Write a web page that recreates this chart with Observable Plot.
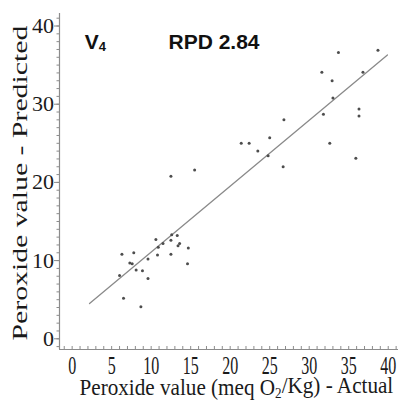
<!DOCTYPE html>
<html><head><meta charset="utf-8">
<script src="https://cdn.jsdelivr.net/npm/d3@7"></script>
<script src="https://cdn.jsdelivr.net/npm/@observablehq/plot@0.6"></script>
<style>body{margin:0;background:#fff} svg{display:block}</style>
</head><body><div id="chart"></div>
<script>
// Data
const actual    = [6.5, 8.7, 6.3, 7.8, 7.3, 7.6, 6.0, 8.1, 8.9, 9.6, 9.6, 10.6, 10.8, 10.9, 11.5, 12.6, 12.5, 13.3, 13.4, 13.6, 12.5, 14.7, 14.6, 12.5, 15.5, 21.4, 22.4, 23.5, 24.8, 25.0, 26.7, 26.8, 31.6, 32.9, 33.7, 38.7, 36.8, 33.0, 31.8, 36.3, 36.3, 32.6, 35.9];
const predicted = [5.2, 4.1, 10.8, 11.0, 9.7, 9.6, 8.1, 8.8, 8.7, 7.7, 10.2, 12.7, 10.7, 11.7, 12.2, 13.3, 12.6, 13.2, 11.9, 12.2, 10.8, 11.6, 9.6, 20.8, 21.6, 25.0, 25.0, 24.0, 23.4, 25.7, 22.0, 28.0, 34.1, 33.0, 36.6, 36.9, 34.1, 30.8, 28.7, 29.4, 28.5, 25.0, 23.1];
const fitActual    = [2.2, 39.9];
const fitPredicted = [4.5, 36.3];
const xTicks = [0, 5, 10, 15, 20, 25, 30, 35, 40];
const yTicks = [0, 10, 20, 30, 40];
const xDomain = [-1.6, 41.3];
const yDomain = [-1.37, 41.6];
const xLabel = "Peroxide value (meq O2/Kg) - Actual";
const yLabel = "Peroxide value - Predicted";
const panelLabel = "V4";
const rpdLabel = "RPD 2.84";

const points = actual.map((a, i) => ({actual: a, predicted: predicted[i]}));
const fit = fitActual.map((a, i) => ({actual: a, predicted: fitPredicted[i]}));
const minorY = d3.range(-1, 42);
const minorX = d3.range(-1, 42);
const serif = "Liberation Serif, 'Times New Roman', serif";
const sans = "Liberation Sans, Arial, sans-serif";
const axisGray = "#8c8c8c";

const chart = Plot.plot({
  width: 399, height: 405,
  marginLeft: 59, marginRight: 1, marginTop: 13, marginBottom: 56,
  x: {domain: xDomain},
  y: {domain: yDomain},
  style: {background: "#fff", color: "#1a1a1a"},
  marks: [
    Plot.axisY(minorY, {tickSize: 2.5, fill: "none", stroke: axisGray, label: null}),
    Plot.axisY(yTicks, {tickSize: 5, tickPadding: 0.5, fontSize: 22, fontFamily: serif, fill: "#1a1a1a", stroke: axisGray, label: null}),
    Plot.axisX(minorX, {tickSize: 3, dy: -3, fill: "none", stroke: axisGray, label: null}),
    Plot.axisX(xTicks, {tickSize: 0, tickPadding: 7, fontSize: 25, fontFamily: serif, fill: "#1a1a1a", label: null}),
    Plot.ruleX([xDomain[0]], {stroke: axisGray, strokeWidth: 1.2}),
    Plot.ruleY([yDomain[0]], {stroke: axisGray, strokeWidth: 1.2}),
    Plot.line(fit, {x: "actual", y: "predicted", stroke: "#8a8a8a", strokeWidth: 1.3}),
    Plot.dot(points, {x: "actual", y: "predicted", r: 1.5, fill: "#4d4d4d", stroke: null}),
    Plot.text([panelLabel], {frameAnchor: "top-left", text: d => d, dx: 25.3, dy: 20.4, lineAnchor: "top", textAnchor: "start", fontSize: 21, fontWeight: "bold", fontFamily: sans, fill: "#111"}),
    Plot.text([rpdLabel], {frameAnchor: "top-left", text: d => d, dx: 109, dy: 20.4, lineAnchor: "top", textAnchor: "start", fontSize: 21, fontWeight: "bold", fontFamily: sans, fill: "#111"}),
    Plot.text([yLabel], {frameAnchor: "left", text: d => d, rotate: -90, dx: -32.5, dy: 159, lineAnchor: "bottom", textAnchor: "start", fontSize: 21, fontFamily: serif, fill: "#1a1a1a"}),
    Plot.text([xLabel], {frameAnchor: "bottom", text: d => d, dx: -149.5, dy: 45.3, lineAnchor: "bottom", textAnchor: "start", fontSize: 24, fontFamily: serif, fill: "#1a1a1a"})
  ]
});
document.getElementById("chart").appendChild(chart);

const svg = d3.select(chart);
function subscriptify(el, base, sub, rest, subSize, shift) {
  const s = d3.select(el);
  s.text(null);
  s.append("tspan").text(base);
  s.append("tspan").attr("font-size", subSize).attr("dy", shift).text(sub);
  if (rest) s.append("tspan").attr("dy", "-" + shift).text(rest);
}
// Fit a text to a target advance length while keeping the glyph height of `glyphFont`
function fitText(el, targetLen, glyphFont) {
  const w = el.getComputedTextLength();
  if (!(w > 0)) return;
  const f0 = parseFloat(getComputedStyle(el).fontSize);
  const f = f0 * targetLen / w;
  el.setAttribute("font-size", f);
  const sy = glyphFont / f;
  el.setAttribute("transform", (el.getAttribute("transform") || "") + ` scale(1,${sy})`);
}
svg.selectAll("text").each(function() {
  const t = this.textContent;
  if (t === xLabel) {
    subscriptify(this, "Peroxide value (meq O", "2", "/Kg) - Actual", "0.62em", "0.22em");
    fitText(this, 314, 24);
  } else if (t === yLabel) {
    fitText(this, 315, 21);
  } else if (t === panelLabel) {
    subscriptify(this, "V", "4", null, 13, 2);
  }
});
svg.selectAll("g[aria-label='x-axis tick label'] text").each(function() {
  const w = this.getComputedTextLength();
  if (w > 0) fitText(this, w * 0.64, 25);
});
</script>
</body></html>
